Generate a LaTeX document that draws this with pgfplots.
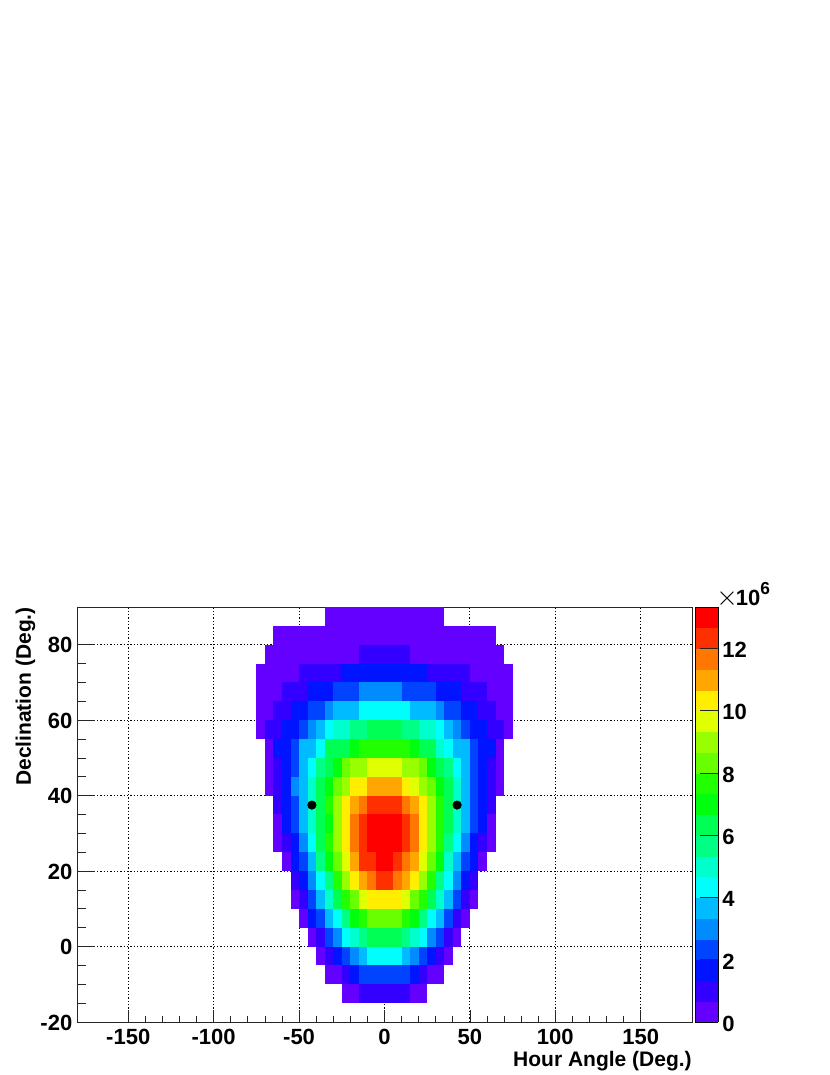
\documentclass[border=0pt]{standalone}
\usepackage{fontspec}
\setmainfont{Liberation Sans}
\usepackage{pgfplots}
\pgfplotsset{compat=1.18}

% 1 px of the reference = 0.75pt; one bin = 5 x 5 deg
\pgfdeclareplotmark{cell}{%
  \pgfpathrectangle{\pgfpointorigin}{\pgfpoint{6.40625pt}{14.148pt}}%
  \pgfusepathqfill}
\newcommand{\tickfont}{\fontsize{16.5}{18}\selectfont\bfseries}

\begin{document}
\begin{tikzpicture}
\useasboundingbox (0,0) rectangle (622.5pt,806.25pt);
\begin{axis}[
    name=main,
    at={(57.75pt,39.75pt)}, anchor=south west,
    scale only axis,
    width=461.25pt, height=311.25pt,
    xmin=-180, xmax=180, ymin=-20, ymax=90,
    axis on top,
    axis line style={line width=0.6pt, black!85},
    xtick={-150,-100,...,150},
    ytick={-20,0,...,80},
    minor x tick num=4,
    minor y tick num=3,
    xtick pos=bottom, ytick pos=left,
    tick align=inside,
    tick style={line width=0.6pt, black!85},
    xtick style={/pgfplots/major tick length=9.2pt, /pgfplots/minor tick length=4.6pt},
    ytick style={/pgfplots/major tick length=13.5pt, /pgfplots/minor tick length=6.8pt},
    grid=major,
    major grid style={line width=0.75pt, black, dash pattern=on 0.9pt off 1.6pt},
    /pgf/number format/assume math mode=true,
    tick label style={font=\tickfont},
    xticklabel style={yshift=-1.5pt},
    yticklabel style={yshift=-0.5pt},
    xlabel={Hour Angle (Deg.)},
    ylabel={Declination (Deg.)},
    label style={font=\fontsize{15.75}{18}\selectfont\bfseries, inner sep=0pt},
    xlabel style={at={(axis description cs:1,0)}, anchor=north east, yshift=-21.75pt},
    ylabel style={at={(axis description cs:0,1)}, anchor=south east, yshift=31pt},
    colormap={rootpal}{
      rgb255=(99,0,255) rgb255=(51,0,255) rgb255=(0,20,255) rgb255=(0,68,255)
      rgb255=(0,139,255) rgb255=(0,187,255) rgb255=(0,255,252) rgb255=(0,255,204)
      rgb255=(0,255,133) rgb255=(0,255,85) rgb255=(0,255,14) rgb255=(34,255,0)
      rgb255=(105,255,0) rgb255=(153,255,0) rgb255=(224,255,0) rgb255=(255,238,0)
      rgb255=(255,167,0) rgb255=(255,119,0) rgb255=(255,48,0) rgb255=(255,0,0)},
    colormap access=piecewise constant,
    point meta min=0, point meta max=13.333,
    colorbar sampled,
    colorbar style={
      samples=21,
      at={(parent axis.north east)}, anchor=north west, xshift=-6pt,
      width=17.25pt,
      ytick={0,2,...,12},
      ytick pos=right, yticklabel pos=right,
      tick align=inside,
      ytick style={/pgfplots/major tick length=13.5pt, line width=0.6pt, black!85},
      /pgf/number format/assume math mode=true,
      yticklabel style={font=\tickfont, xshift=-0.5pt, yshift=-1.2pt},
      minor y tick num=0,
      grid=none,
    },
]
% lower-left bin edges (deg), bin content in units of 10^6
\addplot[scatter, only marks, mark=cell, scatter src=explicit] table[row sep=\\, meta=z] {
x y z\\
-35 85 .33\\ -30 85 .33\\ -25 85 .33\\ -20 85 .33\\ -15 85 .33\\ -10 85 .33\\ -5 85 .33\\ 0 85 .33\\ 5 85 .33\\ 10 85 .33\\ 15 85 .33\\ 20 85 .33\\ 25 85 .33\\ 30 85 .33\\
-65 80 .33\\ -60 80 .33\\ -55 80 .33\\ -50 80 .33\\ -45 80 .33\\ -40 80 .33\\ -35 80 .33\\ -30 80 .33\\ -25 80 .33\\ -20 80 .33\\ -15 80 .33\\ -10 80 .33\\ -5 80 .33\\ 0 80 .33\\ 5 80 .33\\ 10 80 .33\\ 15 80 .33\\ 20 80 .33\\ 25 80 .33\\ 30 80 .33\\ 35 80 .33\\ 40 80 .33\\ 45 80 .33\\ 50 80 .33\\ 55 80 .33\\ 60 80 .33\\
-70 75 .33\\ -65 75 .33\\ -60 75 .33\\ -55 75 .33\\ -50 75 .33\\ -45 75 .33\\ -40 75 .33\\ -35 75 .33\\ -30 75 .33\\ -25 75 .33\\ -20 75 .33\\ -15 75 1\\ -10 75 1\\ -5 75 1\\ 0 75 1\\ 5 75 1\\ 10 75 1\\ 15 75 .33\\ 20 75 .33\\ 25 75 .33\\ 30 75 .33\\ 35 75 .33\\ 40 75 .33\\ 45 75 .33\\ 50 75 .33\\ 55 75 .33\\ 60 75 .33\\ 65 75 .33\\
-75 70 .33\\ -70 70 .33\\ -65 70 .33\\ -60 70 .33\\ -55 70 .33\\ -50 70 1\\ -45 70 1\\ -40 70 1\\ -35 70 1\\ -30 70 1\\ -25 70 1.67\\ -20 70 1.67\\ -15 70 1.67\\ -10 70 1.67\\ -5 70 1.67\\ 0 70 1.67\\ 5 70 1.67\\ 10 70 1.67\\ 15 70 1.67\\ 20 70 1.67\\ 25 70 1\\ 30 70 1\\ 35 70 1\\ 40 70 1\\ 45 70 1\\ 50 70 .33\\ 55 70 .33\\ 60 70 .33\\ 65 70 .33\\ 70 70 .33\\
-75 65 .33\\ -70 65 .33\\ -65 65 .33\\ -60 65 1\\ -55 65 1\\ -50 65 1\\ -45 65 1.67\\ -40 65 1.67\\ -35 65 1.67\\ -30 65 2.33\\ -25 65 2.33\\ -20 65 2.33\\ -15 65 3\\ -10 65 3\\ -5 65 3\\ 0 65 3\\ 5 65 3\\ 10 65 2.33\\ 15 65 2.33\\ 20 65 2.33\\ 25 65 2.33\\ 30 65 1.67\\ 35 65 1.67\\ 40 65 1.67\\ 45 65 1\\ 50 65 1\\ 55 65 1\\ 60 65 .33\\ 65 65 .33\\ 70 65 .33\\
-75 60 .33\\ -70 60 .33\\ -65 60 1\\ -60 60 1\\ -55 60 1.67\\ -50 60 1.67\\ -45 60 2.33\\ -40 60 2.33\\ -35 60 3\\ -30 60 3.67\\ -25 60 3.67\\ -20 60 3.67\\ -15 60 4.33\\ -10 60 4.33\\ -5 60 4.33\\ 0 60 4.33\\ 5 60 4.33\\ 10 60 4.33\\ 15 60 3.67\\ 20 60 3.67\\ 25 60 3.67\\ 30 60 3\\ 35 60 2.33\\ 40 60 2.33\\ 45 60 1.67\\ 50 60 1.67\\ 55 60 1\\ 60 60 1\\ 65 60 .33\\ 70 60 .33\\
-75 55 .33\\ -70 55 1\\ -65 55 1\\ -60 55 1.67\\ -55 55 1.67\\ -50 55 2.33\\ -45 55 3\\ -40 55 3.67\\ -35 55 4.33\\ -30 55 5\\ -25 55 5\\ -20 55 5.67\\ -15 55 5.67\\ -10 55 6.33\\ -5 55 6.33\\ 0 55 6.33\\ 5 55 6.33\\ 10 55 5.67\\ 15 55 5.67\\ 20 55 5\\ 25 55 5\\ 30 55 4.33\\ 35 55 3.67\\ 40 55 3\\ 45 55 2.33\\ 50 55 1.67\\ 55 55 1.67\\ 60 55 1\\ 65 55 1\\ 70 55 .33\\
-70 50 .33\\ -65 50 1.67\\ -60 50 1.67\\ -55 50 2.33\\ -50 50 3.67\\ -45 50 3.67\\ -40 50 4.33\\ -35 50 6.33\\ -30 50 6.33\\ -25 50 6.33\\ -20 50 7\\ -15 50 7.67\\ -10 50 7.67\\ -5 50 7.67\\ 0 50 7.67\\ 5 50 7.67\\ 10 50 7.67\\ 15 50 7\\ 20 50 6.33\\ 25 50 6.33\\ 30 50 5\\ 35 50 4.33\\ 40 50 3.67\\ 45 50 3.67\\ 50 50 2.33\\ 55 50 1.67\\ 60 50 1.67\\ 65 50 .33\\
-70 45 .33\\ -65 45 1\\ -60 45 1.67\\ -55 45 2.33\\ -50 45 3.67\\ -45 45 4.33\\ -40 45 5.67\\ -35 45 6.33\\ -30 45 7\\ -25 45 8.33\\ -20 45 9\\ -15 45 9\\ -10 45 9.67\\ -5 45 9.67\\ 0 45 9.67\\ 5 45 9.67\\ 10 45 9\\ 15 45 9\\ 20 45 8.33\\ 25 45 7\\ 30 45 6.33\\ 35 45 5.67\\ 40 45 4.33\\ 45 45 3.67\\ 50 45 2.33\\ 55 45 1.67\\ 60 45 1\\ 65 45 .33\\
-70 40 .33\\ -65 40 1\\ -60 40 1.67\\ -55 40 3\\ -50 40 3.67\\ -45 40 5\\ -40 40 6.33\\ -35 40 7\\ -30 40 8.33\\ -25 40 9\\ -20 40 10.33\\ -15 40 10.33\\ -10 40 11\\ -5 40 11\\ 0 40 11\\ 5 40 11\\ 10 40 10.33\\ 15 40 9.67\\ 20 40 9\\ 25 40 8.33\\ 30 40 7\\ 35 40 6.33\\ 40 40 5\\ 45 40 3.67\\ 50 40 2.33\\ 55 40 1.67\\ 60 40 1\\ 65 40 .33\\
-65 35 1\\ -60 35 1.67\\ -55 35 2.33\\ -50 35 3.67\\ -45 35 5\\ -40 35 6.33\\ -35 35 7.67\\ -30 35 9\\ -25 35 10.33\\ -20 35 11\\ -15 35 11.67\\ -10 35 12.33\\ -5 35 12.33\\ 0 35 12.33\\ 5 35 12.33\\ 10 35 11.67\\ 15 35 11\\ 20 35 10.33\\ 25 35 9\\ 30 35 7.67\\ 35 35 6.33\\ 40 35 5\\ 45 35 3.67\\ 50 35 2.33\\ 55 35 1.67\\ 60 35 1\\
-65 30 .33\\ -60 30 1.67\\ -55 30 2.33\\ -50 30 3.67\\ -45 30 5\\ -40 30 6.33\\ -35 30 7\\ -30 30 9\\ -25 30 10.33\\ -20 30 11.67\\ -15 30 12.33\\ -10 30 13\\ -5 30 13\\ 0 30 13\\ 5 30 13\\ 10 30 12.33\\ 15 30 11.67\\ 20 30 10.33\\ 25 30 9\\ 30 30 7.67\\ 35 30 6.33\\ 40 30 5\\ 45 30 3.67\\ 50 30 2.33\\ 55 30 1.67\\ 60 30 .33\\
-65 25 .33\\ -60 25 1\\ -55 25 1.67\\ -50 25 3\\ -45 25 4.33\\ -40 25 6.33\\ -35 25 7.67\\ -30 25 9\\ -25 25 10.33\\ -20 25 11.67\\ -15 25 12.33\\ -10 25 13\\ -5 25 13\\ 0 25 13\\ 5 25 13\\ 10 25 12.33\\ 15 25 11.67\\ 20 25 10.33\\ 25 25 9\\ 30 25 7.67\\ 35 25 5.67\\ 40 25 4.33\\ 45 25 3\\ 50 25 1.67\\ 55 25 1\\ 60 25 .33\\
-60 20 .33\\ -55 20 1.67\\ -50 20 2.33\\ -45 20 3.67\\ -40 20 5.67\\ -35 20 7\\ -30 20 8.33\\ -25 20 9.67\\ -20 20 11\\ -15 20 12.33\\ -10 20 12.33\\ -5 20 13\\ 0 20 13\\ 5 20 12.33\\ 10 20 11.67\\ 15 20 11\\ 20 20 9.67\\ 25 20 8.33\\ 30 20 7\\ 35 20 5\\ 40 20 3.67\\ 45 20 2.33\\ 50 20 1.67\\ 55 20 .33\\
-55 15 1\\ -50 15 1.67\\ -45 15 3\\ -40 15 4.33\\ -35 15 5.67\\ -30 15 7.67\\ -25 15 9\\ -20 15 10.33\\ -15 15 11\\ -10 15 11.67\\ -5 15 12.33\\ 0 15 12.33\\ 5 15 11.67\\ 10 15 11\\ 15 15 10.33\\ 20 15 9\\ 25 15 7.67\\ 30 15 5.67\\ 35 15 4.33\\ 40 15 3\\ 45 15 1.67\\ 50 15 1\\
-55 10 .33\\ -50 10 1\\ -45 10 2.33\\ -40 10 3.67\\ -35 10 5\\ -30 10 6.33\\ -25 10 7.67\\ -20 10 8.33\\ -15 10 9.67\\ -10 10 10.33\\ -5 10 10.33\\ 0 10 10.33\\ 5 10 10.33\\ 10 10 9.67\\ 15 10 8.33\\ 20 10 7.67\\ 25 10 6.33\\ 30 10 5\\ 35 10 3.67\\ 40 10 2.33\\ 45 10 1\\ 50 10 .33\\
-50 5 .33\\ -45 5 1.67\\ -40 5 2.33\\ -35 5 3.67\\ -30 5 4.33\\ -25 5 5.67\\ -20 5 7\\ -15 5 7.67\\ -10 5 8.33\\ -5 5 8.33\\ 0 5 8.33\\ 5 5 8.33\\ 10 5 7.67\\ 15 5 7\\ 20 5 5.67\\ 25 5 4.33\\ 30 5 3.67\\ 35 5 2.33\\ 40 5 1\\ 45 5 .33\\
-45 0 .33\\ -40 0 1\\ -35 0 2.33\\ -30 0 3\\ -25 0 4.33\\ -20 0 5\\ -15 0 5.67\\ -10 0 6.33\\ -5 0 6.33\\ 0 0 6.33\\ 5 0 6.33\\ 10 0 5.67\\ 15 0 5\\ 20 0 4.33\\ 25 0 3\\ 30 0 2.33\\ 35 0 1\\ 40 0 .33\\
-40 -5 .33\\ -35 -5 1\\ -30 -5 1.67\\ -25 -5 2.33\\ -20 -5 3\\ -15 -5 3.67\\ -10 -5 4.33\\ -5 -5 4.33\\ 0 -5 4.33\\ 5 -5 4.33\\ 10 -5 3.67\\ 15 -5 3\\ 20 -5 2.33\\ 25 -5 1.67\\ 30 -5 1\\ 35 -5 .33\\
-35 -10 .33\\ -30 -10 .33\\ -25 -10 1\\ -20 -10 1.67\\ -15 -10 2.33\\ -10 -10 2.33\\ -5 -10 2.33\\ 0 -10 2.33\\ 5 -10 2.33\\ 10 -10 2.33\\ 15 -10 1.67\\ 20 -10 1\\ 25 -10 .33\\ 30 -10 .33\\
-25 -15 .33\\ -20 -15 .33\\ -15 -15 1\\ -10 -15 1\\ -5 -15 1\\ 0 -15 1\\ 5 -15 1\\ 10 -15 1\\ 15 -15 .33\\ 20 -15 .33\\
};
% the two black markers
\addplot[only marks, mark=*, mark size=3.2pt, black] coordinates {(-42.5,37.5) (42.5,37.5)};
\end{axis}
\node[anchor=west, inner sep=0pt, font=\tickfont] at (main.north east) [xshift=18pt, yshift=8.7pt]
  {\fontsize{20}{20}\selectfont$\times$\kern-1.5pt\tickfont 10\raisebox{0.5em}{\fontsize{13}{13}\selectfont 6}};
\end{tikzpicture}
\end{document}
